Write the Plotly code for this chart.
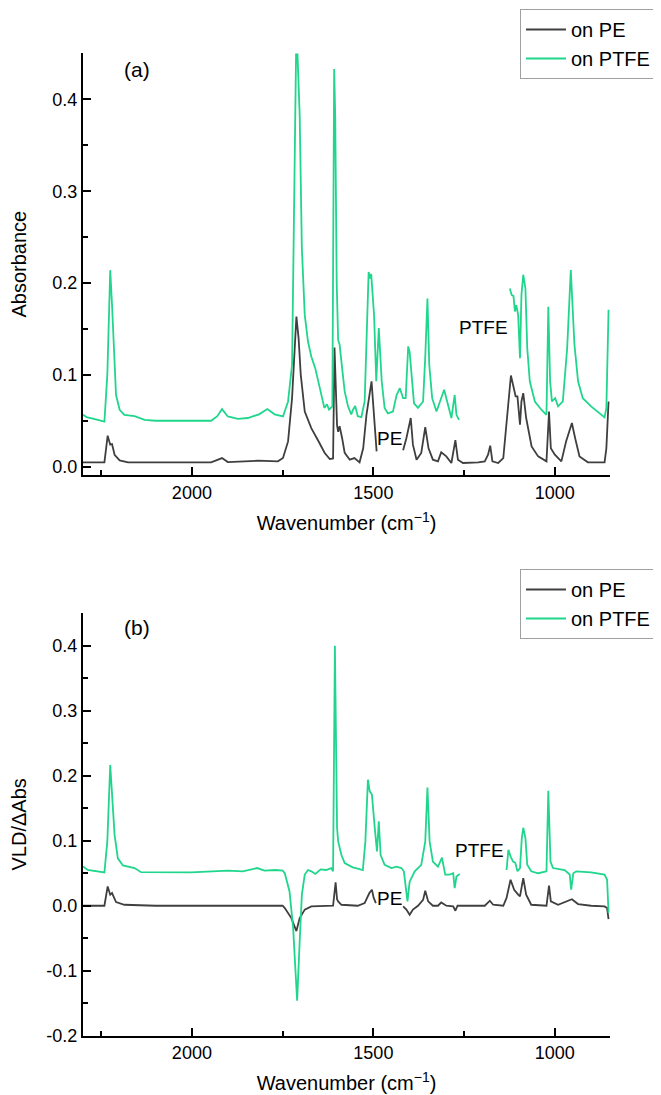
import plotly.graph_objects as go

# ---------------- data (wavenumber cm-1, value) ----------------
# Panel (a): absorbance
pe_abs = [
    (2300, 0.0047), (2241, 0.0047), (2232, 0.0337), (2225, 0.024), (2220, 0.0246), (2213, 0.013),
    (2199, 0.0069), (2176, 0.0047), (2002, 0.0047), (1947, 0.0047), (1917, 0.0094), (1901, 0.005),
    (1818, 0.0065), (1763, 0.0058), (1749, 0.0094), (1735, 0.0275), (1724, 0.0746), (1712, 0.1634),
    (1706, 0.14), (1700, 0.10), (1689, 0.060), (1671, 0.042), (1653, 0.029), (1634, 0.0149),
    (1620, 0.0083), (1611, 0.009), (1607, 0.1297), (1604, 0.10), (1600, 0.045), (1597, 0.038),
    (1593, 0.044), (1586, 0.031), (1579, 0.015), (1565, 0.0076), (1552, 0.0094), (1538, 0.0047),
    (1528, 0.020), (1519, 0.0565), (1505, 0.093), (1497, 0.049), (1491, 0.0167), (1455, None),
    (1418, 0.018), (1409, 0.031), (1397, 0.053), (1391, 0.024), (1381, 0.0076), (1368, 0.015),
    (1357, 0.043), (1348, 0.020), (1336, 0.0076), (1322, 0.0058), (1313, 0.0156), (1299, 0.0112),
    (1285, 0.004), (1274, 0.029), (1267, 0.0076), (1253, 0.004), (1211, 0.0047), (1193, 0.0058),
    (1184, 0.013), (1178, 0.0228), (1172, 0.0058), (1156, 0.004), (1142, 0.0094), (1136, 0.035),
    (1130, 0.0565), (1121, 0.0993), (1115, 0.089), (1108, 0.0765), (1103, 0.0765), (1096, 0.0457),
    (1092, 0.071), (1087, 0.080), (1079, 0.053), (1064, 0.022), (1046, 0.0112), (1023, 0.0058),
    (1016, 0.060), (1011, 0.020), (1000, 0.013), (982, 0.0058), (969, 0.0275), (953, 0.0475),
    (944, 0.031), (932, 0.0112), (909, 0.0047), (863, 0.0047), (858, 0.020), (852, 0.071),
]
ptfe_abs = [
    (2300, 0.0565), (2290, 0.054), (2270, 0.052), (2241, 0.049), (2233, 0.10), (2225, 0.214),
    (2220, 0.176), (2209, 0.078), (2199, 0.062), (2186, 0.0565), (2158, 0.055), (2130, 0.051),
    (2100, 0.050), (2002, 0.050), (1947, 0.050), (1930, 0.055), (1917, 0.0627), (1901, 0.0547),
    (1873, 0.052), (1846, 0.053), (1815, 0.057), (1792, 0.0627), (1772, 0.057), (1749, 0.0547),
    (1735, 0.071), (1724, 0.111), (1718, 0.30), (1713, 0.449), (1709, 0.449), (1703, 0.383),
    (1697, 0.238), (1689, 0.165), (1680, 0.136), (1671, 0.12), (1660, 0.107), (1643, 0.078),
    (1635, 0.064), (1628, 0.068), (1622, 0.062), (1613, 0.0656), (1608, 0.433), (1605, 0.38),
    (1601, 0.20), (1597, 0.138), (1593, 0.133), (1586, 0.107), (1579, 0.082), (1570, 0.066),
    (1561, 0.057), (1556, 0.062), (1550, 0.066), (1543, 0.055), (1533, 0.054), (1524, 0.071),
    (1517, 0.165), (1513, 0.212), (1509, 0.205), (1506, 0.21), (1498, 0.165), (1492, 0.093),
    (1485, 0.151), (1477, 0.093), (1469, 0.064), (1460, 0.058), (1446, 0.060), (1436, 0.078),
    (1427, 0.0855), (1418, 0.0746), (1411, 0.0746), (1404, 0.131), (1400, 0.125), (1395, 0.100),
    (1388, 0.069), (1377, 0.064), (1363, 0.071), (1357, 0.12), (1351, 0.183), (1346, 0.111),
    (1338, 0.0746), (1326, 0.060), (1317, 0.071), (1305, 0.0837), (1294, 0.067), (1285, 0.053),
    (1276, 0.078), (1271, 0.0565), (1264, 0.051), (1200, None), (1124, 0.194), (1119, 0.187),
    (1114, 0.186), (1110, 0.169), (1106, 0.176), (1101, 0.165), (1096, 0.118), (1092, 0.187),
    (1087, 0.209), (1081, 0.194), (1076, 0.129), (1069, 0.093), (1055, 0.071), (1037, 0.062),
    (1023, 0.0565), (1018, 0.174), (1013, 0.093), (1008, 0.071), (999, 0.0746), (991, 0.0656),
    (978, 0.071), (966, 0.129), (956, 0.214), (946, 0.133), (936, 0.093), (923, 0.0746),
    (900, 0.0656), (877, 0.058), (863, 0.0536), (858, 0.064), (852, 0.171),
]
# Panel (b): VLD / dAbs
pe_vld = [
    (2300, 0.0), (2241, 0.0), (2232, 0.0297), (2225, 0.017), (2220, 0.0195), (2209, 0.0056),
    (2186, 0.0015), (2100, 0.0), (1750, 0.0), (1744, -0.0036), (1726, -0.019), (1712, -0.039),
    (1703, -0.019), (1689, -0.006), (1671, -0.001), (1611, 0.0), (1604, 0.036), (1600, 0.01),
    (1597, 0.0067), (1588, 0.0015), (1543, 0.0), (1524, 0.004), (1511, 0.0195), (1504, 0.0246),
    (1499, 0.012), (1493, 0.004), (1455, None), (1418, -0.001), (1409, -0.006), (1400, -0.014),
    (1391, -0.006), (1377, 0.0), (1363, 0.009), (1357, 0.023), (1349, 0.0067), (1336, 0.0),
    (1322, 0.0), (1313, 0.005), (1299, 0.0), (1280, -0.001), (1274, -0.0077), (1268, 0.0),
    (1193, 0.0), (1179, 0.0077), (1170, 0.0015), (1142, 0.0), (1133, 0.012), (1122, 0.040),
    (1112, 0.0246), (1101, 0.017), (1096, 0.0143), (1087, 0.0425), (1079, 0.017), (1065, 0.0015),
    (1023, 0.0), (1016, 0.031), (1011, 0.0067), (991, 0.0015), (964, 0.0077), (953, 0.010),
    (936, 0.0026), (900, 0.0), (863, -0.001), (856, -0.0036), (852, -0.0205),
]
ptfe_vld = [
    (2300, 0.0605), (2287, 0.055), (2241, 0.0512), (2233, 0.099), (2225, 0.2167), (2220, 0.178),
    (2213, 0.109), (2204, 0.073), (2190, 0.062), (2158, 0.058), (2140, 0.0517), (2002, 0.0512),
    (1950, 0.053), (1900, 0.054), (1860, 0.053), (1820, 0.058), (1800, 0.054), (1770, 0.055),
    (1750, 0.054), (1744, 0.050), (1731, 0.022), (1721, -0.034), (1715, -0.096), (1710, -0.146),
    (1703, -0.055), (1697, 0.017), (1689, 0.048), (1680, 0.055), (1671, 0.053), (1660, 0.049),
    (1645, 0.056), (1630, 0.055), (1616, 0.058), (1611, 0.053), (1606, 0.40), (1603, 0.25),
    (1600, 0.12), (1597, 0.099), (1593, 0.09), (1588, 0.078), (1579, 0.0656), (1557, 0.059),
    (1543, 0.057), (1529, 0.055), (1522, 0.099), (1515, 0.194), (1510, 0.176), (1504, 0.171),
    (1496, 0.119), (1490, 0.0835), (1485, 0.130), (1480, 0.078), (1469, 0.063), (1450, 0.058),
    (1436, 0.060), (1423, 0.058), (1416, 0.053), (1409, 0.017), (1406, 0.0067), (1400, 0.037),
    (1386, 0.053), (1368, 0.063), (1357, 0.099), (1351, 0.182), (1345, 0.099), (1336, 0.068),
    (1322, 0.060), (1311, 0.074), (1302, 0.048), (1290, 0.048), (1280, 0.050), (1276, 0.027),
    (1271, 0.045), (1262, 0.049), (1200, None), (1133, 0.055), (1128, 0.086), (1122, 0.076),
    (1115, 0.068), (1109, 0.066), (1103, 0.053), (1096, 0.058), (1091, 0.104), (1087, 0.120),
    (1081, 0.104), (1076, 0.063), (1065, 0.053), (1046, 0.050), (1023, 0.053), (1018, 0.177),
    (1012, 0.068), (1005, 0.058), (973, 0.055), (959, 0.048), (955, 0.0246), (949, 0.050),
    (941, 0.053), (900, 0.0512), (863, 0.048), (856, 0.040), (852, -0.011),
]

series_names = ["on PE", "on PTFE"]
x_title = "Wavenumber (cm<sup>−1</sup>)"
ya_title = "Absorbance"
yb_title = "VLD/ΔAbs"
x_tick_vals = [2000, 1500, 1000]
x_tick_text = ["2000", "1500", "1000"]
ya_tick_vals = [0.0, 0.1, 0.2, 0.3, 0.4]
ya_tick_text = ["0.0", "0.1", "0.2", "0.3", "0.4"]
yb_tick_vals = [-0.2, -0.1, 0.0, 0.1, 0.2, 0.3, 0.4]
yb_tick_text = ["-0.2", "-0.1", "0.0", "0.1", "0.2", "0.3", "0.4"]

PE_COLOR = "#3f3f3f"
PTFE_COLOR = "#1fd68c"
FONT = "Arial"
W, H = 661, 1095


def xs(d):
    return [p[0] for p in d]


def ys(d):
    return [p[1] for p in d]


fig = go.Figure()
fig.add_trace(go.Scatter(x=xs(pe_abs), y=ys(pe_abs), mode="lines", name=series_names[0],
                         line=dict(color=PE_COLOR, width=1.8), xaxis="x", yaxis="y", legend="legend"))
fig.add_trace(go.Scatter(x=xs(ptfe_abs), y=ys(ptfe_abs), mode="lines", name=series_names[1],
                         line=dict(color=PTFE_COLOR, width=1.8), xaxis="x", yaxis="y", legend="legend"))
fig.add_trace(go.Scatter(x=xs(pe_vld), y=ys(pe_vld), mode="lines", name=series_names[0],
                         line=dict(color=PE_COLOR, width=1.8), xaxis="x2", yaxis="y2", legend="legend2"))
fig.add_trace(go.Scatter(x=xs(ptfe_vld), y=ys(ptfe_vld), mode="lines", name=series_names[1],
                         line=dict(color=PTFE_COLOR, width=1.8), xaxis="x2", yaxis="y2", legend="legend2"))

x_dom = [75 / W, 602 / W]


def ydom(top_px, bot_px):
    return [1 - bot_px / H, 1 - top_px / H]


axis_common = dict(showline=True, linewidth=2, linecolor="black", ticks="inside", ticklen=8,
                   tickwidth=2, tickcolor="black", showgrid=False, zeroline=False,
                   automargin=False, tickfont=dict(size=18, color="black", family=FONT))
minor_common = dict(tickmode="linear", ticks="inside", ticklen=5, tickwidth=2, tickcolor="black",
                    showgrid=False)

xa = dict(axis_common, domain=x_dom, range=[2300, 848], tickmode="array",
          tickvals=x_tick_vals, ticktext=x_tick_text,
          title=dict(text=x_title, standoff=14, font=dict(size=20, color="black", family=FONT)),
          minor=dict(minor_common, tick0=0, dtick=250))

ytitle_font = dict(size=20, color="black", family=FONT)

legend_common = dict(xanchor="left", x=512 / W, yanchor="top", bgcolor="white",
                     bordercolor="#a0a0a0", borderwidth=1, itemwidth=40,
                     font=dict(size=20, color="black", family=FONT), tracegroupgap=0)

fig.update_layout(
    template="none",
    width=W, height=H, margin=dict(l=0, r=0, t=0, b=0),
    paper_bgcolor="white", plot_bgcolor="white",
    font=dict(family=FONT, color="black"),
    xaxis=dict(xa, anchor="y"),
    yaxis=dict(axis_common, domain=ydom(45, 467.3), range=[-0.0094, 0.4505], anchor="x",
               tickmode="array", tickvals=ya_tick_vals, ticktext=ya_tick_text,
               title=dict(text=ya_title, standoff=27, font=ytitle_font),
               minor=dict(minor_common, tick0=0, dtick=0.05)),
    xaxis2=dict(xa, anchor="y2"),
    yaxis2=dict(axis_common, domain=ydom(605, 1027.7), range=[-0.2, 0.4505], anchor="x2",
                tickmode="array", tickvals=yb_tick_vals, ticktext=yb_tick_text,
                title=dict(text=yb_title, standoff=27, font=ytitle_font),
                minor=dict(minor_common, tick0=0, dtick=0.05)),
    legend=dict(legend_common, y=1 - 1 / H),
    legend2=dict(legend_common, y=1 - 561 / H),
)

ann_font = dict(family=FONT, color="black")
annotations = [
    dict(text="(a)", x=129 / W, y=1 - 62 / H, size=21),
    dict(text="(b)", x=129 / W, y=1 - 619 / H, size=21),
    dict(text="PTFE", x=475 / W, y=1 - 319.5 / H, size=19),
    dict(text="PE", x=381 / W, y=1 - 430.5 / H, size=19),
    dict(text="PTFE", x=471 / W, y=1 - 843 / H, size=19),
    dict(text="PE", x=381.5 / W, y=1 - 890 / H, size=19),
]
for a in annotations:
    fig.add_annotation(text=a["text"], x=a["x"], y=a["y"], xref="paper", yref="paper",
                       showarrow=False, xanchor="center", yanchor="middle",
                       font=dict(ann_font, size=a["size"]))

fig.write_html("out.html")
